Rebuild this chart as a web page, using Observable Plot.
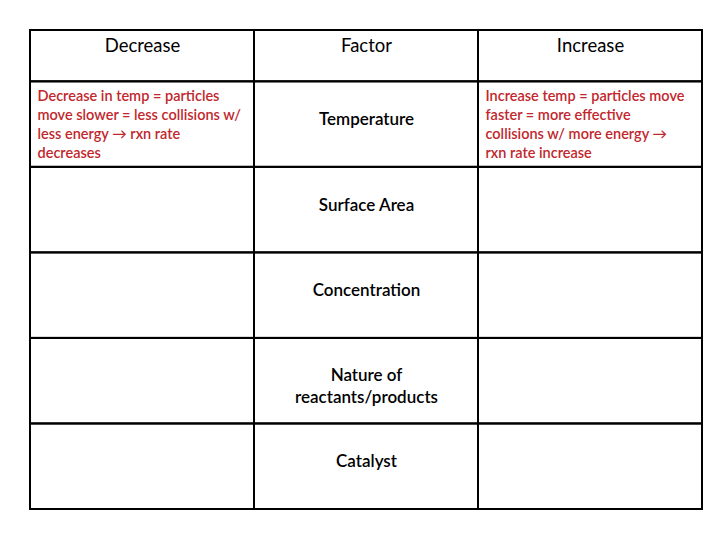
<!DOCTYPE html>
<html>
<head>
<meta charset="utf-8">
<script src="https://cdn.jsdelivr.net/npm/d3@7"></script>
<script src="https://cdn.jsdelivr.net/npm/@observablehq/plot@0.6"></script>
<style>
  html, body { margin: 0; padding: 0; background: #ffffff; }
  #chart svg { display: block; }
</style>
</head>
<body>
<div id="chart"></div>
<script>
// ---- data ----
const columns = ["Decrease", "Factor", "Increase"];
const factors = ["Temperature", "Surface Area", "Concentration", "Nature of\nreactants/products", "Catalyst"];
const decreaseText = [
  "Decrease in temp = particles\nmove slower = less collisions w/\nless energy \u2192 rxn rate\ndecreases",
  "", "", "", ""
];
const increaseText = [
  "Increase temp = particles move\nfaster = more effective\ncollisions w/ more energy \u2192\nrxn rate increase",
  "", "", "", ""
];

// ---- layout (table in data units: 3 columns, header row 0.6 high, body rows 1 high) ----
const headerH = 0.6;
const rowTop = r => r === 0 ? 0 : headerH + (r - 1);
const rowBottom = r => r === 0 ? headerH : headerH + r;

const cells = [];
for (let r = 0; r <= factors.length; r++) {
  for (let c = 0; c < columns.length; c++) {
    cells.push({x1: c, x2: c + 1, y1: rowTop(r), y2: rowBottom(r)});
  }
}
const headers = columns.map((t, c) => ({x: c + 0.5, y: 0, text: t}));
const factorCells = factors.map((t, i) => ({x: 1.5, y: (rowTop(i + 1) + rowBottom(i + 1)) / 2, text: t, lines: t.split("\n").length}));
const redCells = [];
decreaseText.forEach((t, i) => { if (t) redCells.push({x: 0, y: rowTop(i + 1), text: t}); });
increaseText.forEach((t, i) => { if (t) redCells.push({x: 2, y: rowTop(i + 1), text: t}); });

const font = "Lato, 'Open Sans', sans-serif";
const red = "#c1272d";

const chart = Plot.plot({
  width: 720,
  height: 540,
  margin: 0,
  x: {domain: [0, 3], range: [30, 702], axis: null},
  y: {domain: [0, headerH + factors.length], range: [30, 509], axis: null},
  style: {background: "#ffffff", fontFamily: font},
  marks: [
    Plot.rect(cells, {x1: "x1", x2: "x2", y1: "y1", y2: "y2", fill: "none", stroke: "#000", strokeWidth: 2}),
    Plot.text(headers, {x: "x", y: "y", text: "text", dy: 16, fontSize: 18.5, fill: "#000", textAnchor: "middle"}),
    Plot.text(factorCells.filter(d => d.lines === 1), {x: "x", y: "y", text: "text", dy: -5, fontSize: 17, fontWeight: 600, fill: "#000"}),
    Plot.text(factorCells.filter(d => d.lines > 1), {x: "x", y: "y", text: "text", dy: 4, fontSize: 17, fontWeight: 600, fill: "#000", lineHeight: 1.3}),
    Plot.text(redCells, {x: "x", y: "y", text: "text", dx: 7, dy: 5, textAnchor: "start", lineAnchor: "top", fontSize: 14.5, fontWeight: 600, fill: red, lineHeight: 1.33})
  ]
});
document.getElementById("chart").appendChild(chart);
</script>
</body>
</html>
